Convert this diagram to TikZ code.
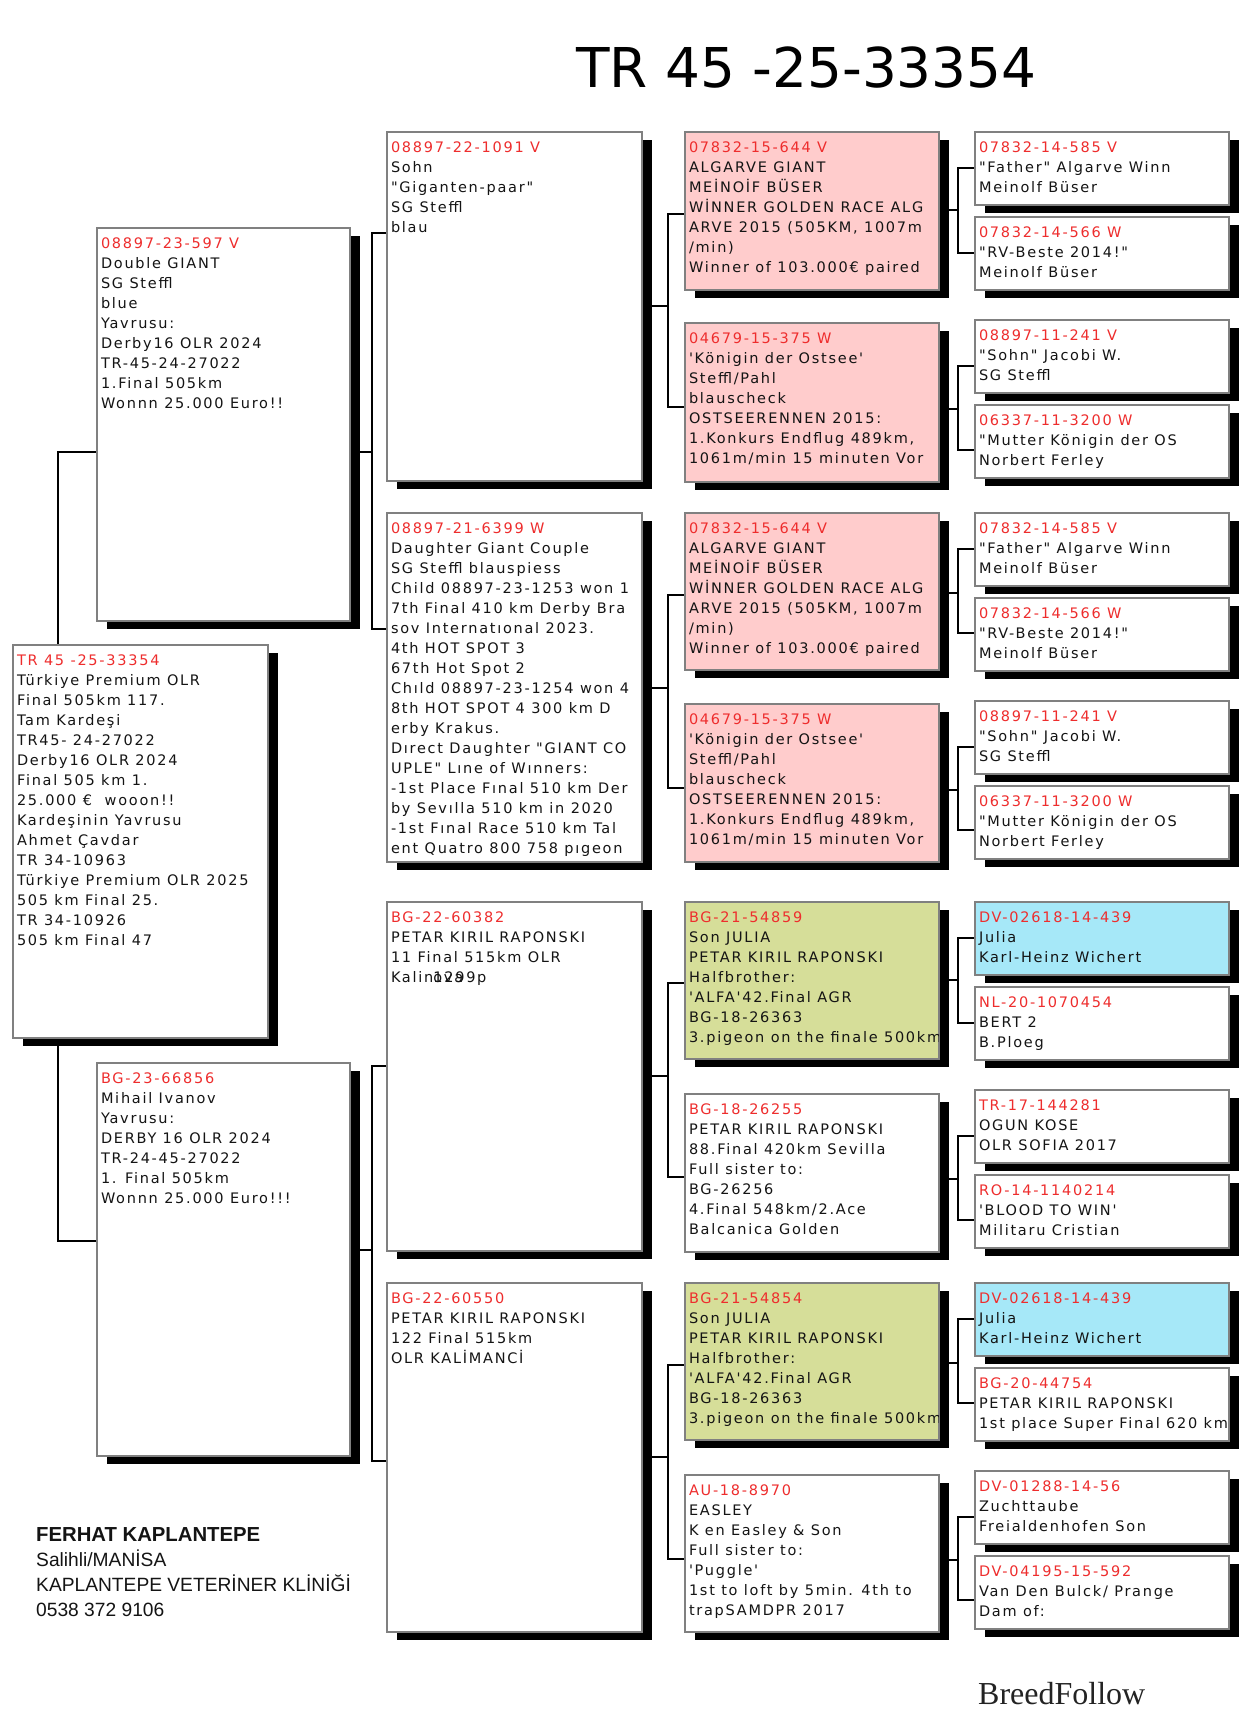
\documentclass[tikz,border=0pt]{standalone}
\usepackage{fontspec}
\newfontfamily\bx[LetterSpace=12]{DejaVu Sans}
\newfontfamily\ttlf{DejaVu Sans}
\newfontfamily\ftrf{Liberation Sans}
\newfontfamily\brdf{Liberation Serif}
\definecolor{idred}{RGB}{238,45,45}
\definecolor{txtc}{RGB}{20,20,20}
\definecolor{pinkc}{RGB}{255,204,204}
\definecolor{greenc}{RGB}{214,222,153}
\definecolor{bluec}{RGB}{166,232,248}
\definecolor{bordc}{RGB}{128,128,128}
\pgfdeclarelayer{bg}
\pgfsetlayers{bg,main}
\tikzset{
 pbx/.style={draw=bordc, line width=1.4pt, rectangle, inner sep=0pt, outer sep=0pt},
 ptx/.style={inner sep=0pt, outer sep=0pt, align=left, text=txtc, font=\bx\fontsize{14.5}{20}\selectfont},
 conn/.style={line width=1.1pt, black},
 shd/.style={fill=black},
}
\newcommand\pid[1]{\rule{0pt}{14pt}\textcolor{idred}{#1}}
\newcommand\pedbox[7]{%
  \fill[shd] ({#2+10},{#3+8}) rectangle ({#4+10},{#5+8});
  \node[pbx, fill=#6, minimum width={#4-#2}, minimum height={#5-#3}, anchor=north west] (#1) at (#2,#3) {};
  \begin{scope}
    \clip ({#2+1},{#3+1}) rectangle ({#4-1},{#5-1});
    \node[ptx, anchor=north west] (#1t) at ({#2+4},{#3+6}) {#7};
  \end{scope}}
\newcommand\pedfork[7]{%
  \draw[conn] (#1.east |- 0,#2) -- (#3,#2);
  \draw[conn] (#4.west |- 0,#5) -| (#3,#7) -- (#6.west |- 0,#7);}
\newcommand\tFA{\pid{07832-15-644 V}\\ALGARVE GIANT\\MEİNOİF BÜSER\\WİNNER GOLDEN RACE ALG\\ARVE 2015 (505KM, 1007m\\/min)\\Winner of 103.000€ paired}
\newcommand\tFB{\pid{04679-15-375 W}\\'Königin der Ostsee'\\Steffl/Pahl\\blauscheck\\OSTSEERENNEN 2015:\\1.Konkurs Endflug 489km,\\1061m/min 15 minuten Vor}
\newcommand\tJul{Son JULIA\\PETAR KIRIL RAPONSKI\\Halfbrother:\\'ALFA'42.Final AGR\\BG-18-26363\\3.pigeon on the finale 500km}
\begin{document}
\begin{tikzpicture}[x=1pt,y=-1pt]
\useasboundingbox (0,0) rectangle (1248,1727);
% title
\node[anchor=base west, inner sep=0pt, font=\ttlf\fontsize{54.9}{60}\selectfont, text=black] (title) at (576,87) {TR 45 -25-33354};
% subject and parents
\pedbox{S}{13}{645}{268}{1038}{white}{\pid{TR 45 -25-33354}\\Türkiye Premium OLR\\Final 505km 117.\\Tam Kardeşi\\TR45- 24-27022\\Derby16 OLR 2024\\Final 505 km 1.\\25.000 €\ \ wooon!!\\Kardeşinin Yavrusu\\Ahmet Çavdar\\TR 34-10963\\Türkiye Premium OLR 2025\\505 km Final 25.\\TR 34-10926\\505 km Final 47}
\pedbox{F}{97}{228}{350}{621}{white}{\pid{08897-23-597 V}\\Double GIANT\\SG Steffl\\blue\\Yavrusu:\\Derby16 OLR 2024\\TR-45-24-27022\\1.Final 505km\\Wonnn 25.000 Euro!!}
\pedbox{M}{97}{1063}{350}{1456}{white}{\pid{BG-23-66856}\\Mihail Ivanov\\Yavrusu:\\DERBY 16 OLR 2024\\TR-24-45-27022\\1. Final 505km\\Wonnn 25.000 Euro!!!}
% grandparents
\pedbox{FF}{387}{132}{642}{481}{white}{\pid{08897-22-1091 V}\\Sohn\\"Giganten-paar"\\SG Steffl\\blau}
\pedbox{FM}{387}{513}{642}{862}{white}{\pid{08897-21-6399 W}\\Daughter Giant Couple\\SG Steffl blauspiess\\Child 08897-23-1253 won 1\\7th Final 410 km Derby Bra\\sov Internatıonal 2023.\\4th HOT SPOT 3\\67th Hot Spot 2\\Chıld 08897-23-1254 won 4\\8th HOT SPOT 4 300 km D\\erby Krakus.\\Dırect Daughter "GIANT CO\\UPLE" Lıne of Wınners:\\-1st Place Fınal 510 km Der\\by Sevılla 510 km in 2020\\-1st Fınal Race 510 km Tal\\ent Quatro 800 758 pıgeon}
\pedbox{MF}{387}{902}{642}{1251}{white}{\pid{BG-22-60382}\\PETAR KIRIL RAPONSKI\\11 Final 515km OLR\\Kalin\rlap{ova}1299p}
\pedbox{MM}{387}{1283}{642}{1632}{white}{\pid{BG-22-60550}\\PETAR KIRIL RAPONSKI\\122 Final 515km\\OLR KALİMANCİ}
% great-grandparents
\pedbox{FFF}{685}{132}{939}{290}{pinkc}{\tFA}
\pedbox{FFM}{685}{323}{939}{482}{pinkc}{\tFB}
\pedbox{FMF}{685}{513}{939}{670}{pinkc}{\tFA}
\pedbox{FMM}{685}{704}{939}{862}{pinkc}{\tFB}
\pedbox{MFF}{685}{902}{939}{1059}{greenc}{\pid{BG-21-54859}\\\tJul}
\pedbox{MFM}{685}{1094}{939}{1252}{white}{\pid{BG-18-26255}\\PETAR KIRIL RAPONSKI\\88.Final 420km Sevilla\\Full sister to:\\BG-26256\\4.Final 548km/2.Ace\\Balcanica Golden}
\pedbox{MMF}{685}{1283}{939}{1440}{greenc}{\pid{BG-21-54854}\\\tJul}
\pedbox{MMM}{685}{1475}{939}{1632}{white}{\pid{AU-18-8970}\\EASLEY\\K en Easley \& Son\\Full sister to:\\'Puggle'\\1st to loft by 5min. 4th to\\trapSAMDPR 2017}
% generation 4
\pedbox{FFFF}{975}{132}{1229}{205}{white}{\pid{07832-14-585 V}\\"Father" Algarve Winn\\Meinolf Büser}
\pedbox{FFFM}{975}{217}{1229}{290}{white}{\pid{07832-14-566 W}\\"RV-Beste 2014!"\\Meinolf Büser}
\pedbox{FFMF}{975}{320}{1229}{393}{white}{\pid{08897-11-241 V}\\"Sohn" Jacobi W.\\SG Steffl}
\pedbox{FFMM}{975}{405}{1229}{478}{white}{\pid{06337-11-3200 W}\\"Mutter Königin der OS\\Norbert Ferley}
\pedbox{FMFF}{975}{513}{1229}{586}{white}{\pid{07832-14-585 V}\\"Father" Algarve Winn\\Meinolf Büser}
\pedbox{FMFM}{975}{598}{1229}{671}{white}{\pid{07832-14-566 W}\\"RV-Beste 2014!"\\Meinolf Büser}
\pedbox{FMMF}{975}{701}{1229}{774}{white}{\pid{08897-11-241 V}\\"Sohn" Jacobi W.\\SG Steffl}
\pedbox{FMMM}{975}{786}{1229}{859}{white}{\pid{06337-11-3200 W}\\"Mutter Königin der OS\\Norbert Ferley}
\pedbox{MFFF}{975}{902}{1229}{975}{bluec}{\pid{DV-02618-14-439}\\Julia\\Karl-Heinz Wichert}
\pedbox{MFFM}{975}{987}{1229}{1060}{white}{\pid{NL-20-1070454}\\BERT 2\\B.Ploeg}
\pedbox{MFMF}{975}{1090}{1229}{1163}{white}{\pid{TR-17-144281}\\OGUN KOSE\\OLR SOFIA 2017}
\pedbox{MFMM}{975}{1175}{1229}{1248}{white}{\pid{RO-14-1140214}\\'BLOOD TO WIN'\\Militaru Cristian}
\pedbox{MMFF}{975}{1283}{1229}{1356}{bluec}{\pid{DV-02618-14-439}\\Julia\\Karl-Heinz Wichert}
\pedbox{MMFM}{975}{1368}{1229}{1441}{white}{\pid{BG-20-44754}\\PETAR KIRIL RAPONSKI\\1st place Super Final 620 km}
\pedbox{MMMF}{975}{1471}{1229}{1544}{white}{\pid{DV-01288-14-56}\\Zuchttaube\\Freialdenhofen Son}
\pedbox{MMMM}{975}{1556}{1229}{1629}{white}{\pid{DV-04195-15-592}\\Van Den Bulck/ Prange\\Dam of:}
% footer
\node[anchor=north west, inner sep=0pt, align=left, text=txtc, font=\ftrf\fontsize{19.2}{25}\selectfont] (owner) at (36,1526) {\rule{0pt}{15pt}{\fontsize{20.3}{25}\selectfont\bfseries FERHAT KAPLANTEPE}\\Salihli/MANİSA\\KAPLANTEPE VETERİNER KLİNİĞİ\\0538 372 9106};
\node[anchor=base west, inner sep=0pt, text={rgb,255:red,35;green,35;blue,35}, font=\brdf\fontsize{32}{32}\selectfont] (brand) at (978,1704) {BreedFollow};
% connectors
\begin{pgfonlayer}{bg}
\fill[white] (0,0) rectangle (1248,1727);
\draw[conn] (F.west |- 0,452) -| (58,1241) -- (M.west |- 0,1241);
\pedfork{F}{452}{372}{FF}{233}{FM}{629}
\pedfork{M}{1250}{372}{MF}{1066}{MM}{1461}
\pedfork{FF}{306}{668}{FFF}{214}{FFM}{407}
\pedfork{FM}{688}{668}{FMF}{595}{FMM}{788}
\pedfork{MF}{1076}{668}{MFF}{983}{MFM}{1177}
\pedfork{MM}{1457}{668}{MMF}{1365}{MMM}{1559}
\pedfork{FFF}{210}{958}{FFFF}{168}{FFFM}{253}
\pedfork{FFM}{409}{958}{FFMF}{366}{FFMM}{450}
\pedfork{FMF}{593}{958}{FMFF}{549}{FMFM}{633}
\pedfork{FMM}{790}{958}{FMMF}{747}{FMMM}{830}
\pedfork{MFF}{980}{958}{MFFF}{938}{MFFM}{1023}
\pedfork{MFM}{1179}{958}{MFMF}{1136}{MFMM}{1220}
\pedfork{MMF}{1363}{958}{MMFF}{1319}{MMFM}{1403}
\pedfork{MMM}{1560}{958}{MMMF}{1517}{MMMM}{1600}
\end{pgfonlayer}
\end{tikzpicture}
\end{document}
